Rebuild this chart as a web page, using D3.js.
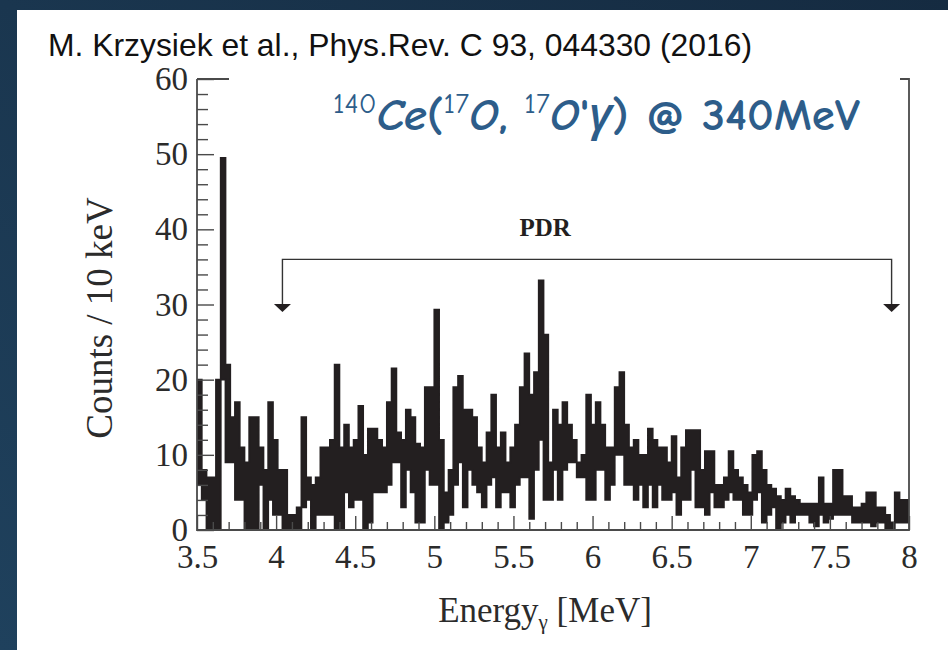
<!DOCTYPE html>
<html>
<head>
<meta charset="utf-8">
<script src="https://cdn.jsdelivr.net/npm/d3@7"></script>
<style>
  html, body { margin: 0; padding: 0; }
  body { width: 948px; height: 650px; overflow: hidden; }
</style>
</head>
<body>
<svg id="chart" width="948" height="650"></svg>
<script>
// spectrum in 30 keV steps from 3.50 MeV:
// upper = top of the black trace in the step, lower = bottom of it
const E0 = 3.5;
const binWidth = 0.03;
const upper350to494 = [20, 8, 7, 7, 20, 49.5, 22, 15, 17, 11,
  9, 15, 15, 11, 8, 17, 12, 8, 8, 2,
  2, 3, 15, 7, 6, 7, 11, 11, 12, 22,
  11, 14, 11, 12, 16.5, 10, 13.5, 13.5, 12, 11,
  17, 21.5, 13, 12, 16, 15, 11.5, 11, 19];
const lower350to494 = [6, 4, 0, 0, 0, 20, 9, 9, 4, 4,
  0, 0, 0, 6, 0, 4, 2, 2, 0, 0,
  0, 0, 3, 4, 0, 2, 2, 2, 2, 0,
  0, 5, 3, 4, 4, 0, 1, 5, 5, 5,
  6, 9, 9, 3, 8, 5, 1, 1, 8];
const upper497to656 = [19, 29.3, 12, 5, 8, 19, 20.5, 16, 16, 15,
  11, 9, 13, 18, 11, 13, 9, 11, 14, 19,
  23.5, 18, 21, 33.2, 26, 9, 16, 14, 17, 14,
  12, 9, 10, 18, 14, 17, 14, 11, 11, 19,
  21, 14, 11, 12, 10, 10, 13.5, 12, 11, 11,
  9, 12.5, 7, 11];
const lower497to656 = [6, 6, 0, 1, 2, 6, 9, 3, 8, 6,
  5, 3, 6, 7, 3, 5, 5, 3, 6, 7,
  7, 1.5, 8, 12, 4, 4, 8, 4, 8, 9,
  9, 7, 7, 4, 4, 8, 8, 4, 6, 10,
  10, 6, 6, 4, 6, 3, 6, 3, 6, 4,
  4, 5, 2, 4];
const upper659to797 = [13.3, 13.3, 13.3, 8, 10.5, 10.5, 6, 6, 7, 10.5,
  8, 7, 6, 5, 10, 10.5, 8, 6, 5.5, 4.5,
  4, 5.5, 4.5, 4, 3.5, 3.5, 3.5, 3.5, 7, 3.5,
  3.5, 8, 8, 4.5, 4.5, 3, 3, 3.5, 5, 5,
  3, 3, 2, 1, 5, 4, 4];
const lower659to797 = [4, 8, 3, 3, 2, 5, 3, 3, 4, 5,
  4, 4, 2, 2, 4, 5, 1, 2, 3, 0,
  1, 2, 1, 2, 2, 2, 1, 0.5, 2, 1,
  1.5, 2, 2, 2, 2, 1, 1, 1, 1, 0.5,
  1, 1, 0, 0, 1, 1, 1];

const xTickValues = [3.5, 4, 4.5, 5, 5.5, 6, 6.5, 7, 7.5, 8];
const yTickValues = [0, 10, 20, 30, 40, 50, 60];
const pdrRange = [4.04, 7.89];   // MeV
const pdrLevel = 36;             // counts, bracket line
const pdrArrowTip = 29;          // counts
const pdrLabelE = 5.7;

const citation = "M. Krzysiek et al., Phys.Rev. C 93, 044330 (2016)";
const titleParts = [
  ["140", true, false], ["Ce", false, true], ["(", false, false], ["17", true, false],
  ["O", false, true], [", ", false, false], ["17", true, false], ["O", false, true],
  ["'", false, false], ["γ", false, true], [") @ 340MeV", false, false]
];

const svg = d3.select("#chart");

// page background
const defs = svg.append("defs");
const grad = defs.append("linearGradient").attr("id", "bg")
    .attr("x1", "0").attr("y1", "1").attr("x2", "1").attr("y2", "0");
grad.append("stop").attr("offset", "0").attr("stop-color", "#1f415d");
grad.append("stop").attr("offset", "1").attr("stop-color", "#152b41");
svg.append("rect").attr("width", 948).attr("height", 650).attr("fill", "url(#bg)");
svg.append("rect").attr("x", 17).attr("y", 10).attr("width", 931).attr("height", 640).attr("fill", "#fff");

const plotLeft = 197, plotRight = 909, plotTop = 79, plotBottom = 530;
const x = d3.scaleLinear().domain([3.5, 8]).range([plotLeft, plotRight]);
const y = d3.scaleLinear().domain([0, 60]).range([plotBottom, plotTop]);

defs.append("clipPath").attr("id", "plotclip")
  .append("rect").attr("x", plotLeft).attr("y", plotTop)
  .attr("width", plotRight - plotLeft).attr("height", plotBottom - plotTop + 1);

// histogram
const upper = upper350to494.concat(upper497to656, upper659to797);
const lower = lower350to494.concat(lower497to656, lower659to797);
const bins = upper.map((u, i) => ({ e: E0 + i * binWidth, hi: u, lo: lower[i] }));
bins.push({ e: 8, hi: upper[upper.length - 1], lo: lower[lower.length - 1] });

const band = d3.area()
    .x(d => x(d.e))
    .y0(d => y(d.lo))
    .y1(d => y(d.hi))
    .curve(d3.curveStepAfter);

svg.append("path")
    .datum(bins)
    .attr("clip-path", "url(#plotclip)")
    .attr("fill", "#231f20")
    .attr("stroke", "#231f20")
    .attr("stroke-width", 1.8)
    .attr("d", band);

// axes
const axisColor = "#4a4a4a";
const tickFont = "'Liberation Serif', 'Times New Roman', serif";

const xMinor = d3.range(36, 81).map(v => v / 10).filter(v => xTickValues.indexOf(v) < 0);
const yMinor = d3.range(0, 61, 2).filter(v => v % 10 !== 0);

svg.append("g").attr("transform", "translate(0," + plotBottom + ")")
    .call(d3.axisBottom(x).tickValues(xTickValues).tickSizeInner(-14).tickSizeOuter(0).tickPadding(15)
      .tickFormat(d3.format("")));
svg.append("g").attr("transform", "translate(0," + plotBottom + ")")
    .call(d3.axisBottom(x).tickValues(xMinor).tickSizeInner(-8).tickSizeOuter(0).tickFormat(""));

svg.append("g").attr("transform", "translate(" + plotLeft + ",0)")
    .call(d3.axisLeft(y).tickValues(yTickValues).tickSizeInner(-17).tickSizeOuter(0).tickPadding(9));
svg.append("g").attr("transform", "translate(" + plotLeft + ",0)")
    .call(d3.axisLeft(y).tickValues(yMinor).tickSizeInner(-11).tickSizeOuter(0).tickFormat(""));

svg.selectAll(".domain").remove();
svg.selectAll(".tick line").attr("stroke", axisColor).attr("stroke-width", 1.4);
svg.selectAll(".tick text")
    .attr("fill", "#2b2b2b")
    .style("font-family", tickFont)
    .style("font-size", "33px");

// frame
svg.append("path")
    .attr("fill", "none")
    .attr("stroke", axisColor)
    .attr("stroke-width", 1.8)
    .attr("d", "M" + plotLeft + "," + plotTop + "V" + plotBottom + "H" + plotRight + "V" + plotTop + "H" + plotLeft);

// white box behind the reaction title hides the top frame
svg.append("rect").attr("x", 229).attr("y", 66).attr("width", 671).attr("height", 78).attr("fill", "#fff");

// PDR bracket
const bx1 = x(pdrRange[0]), bx2 = x(pdrRange[1]);
const tipY = y(pdrArrowTip), headY = tipY - 8, lvlY = y(pdrLevel);
svg.append("path")
    .attr("fill", "none")
    .attr("stroke", "#333")
    .attr("stroke-width", 1.4)
    .attr("d", "M" + bx1 + "," + headY + "V" + lvlY + "H" + bx2 + "V" + headY);
[bx1, bx2].forEach(bx => {
  svg.append("path")
      .attr("fill", "#231f20")
      .attr("d", "M" + (bx - 8.5) + "," + headY + "L" + (bx + 8.5) + "," + headY + "L" + bx + "," + tipY + "Z");
});
svg.append("text")
    .attr("x", x(pdrLabelE))
    .attr("y", y(pdrLevel) - 23)
    .attr("text-anchor", "middle")
    .style("font-family", tickFont)
    .style("font-weight", "bold")
    .style("font-size", "25px")
    .attr("fill", "#231f20")
    .text("PDR");

// axis titles
svg.append("text")
    .attr("transform", "translate(112,318) rotate(-90)")
    .attr("text-anchor", "middle")
    .style("font-family", tickFont)
    .style("font-size", "37px")
    .attr("fill", "#2b2b2b")
    .text("Counts / 10 keV");

const xt = svg.append("text")
    .attr("x", 545)
    .attr("y", 622)
    .attr("text-anchor", "middle")
    .style("font-family", tickFont)
    .style("font-size", "35px")
    .attr("fill", "#2b2b2b");
xt.append("tspan").text("Energy");
xt.append("tspan").attr("dy", 7).style("font-size", "21px").text("γ");
xt.append("tspan").attr("dy", -7).text(" [MeV]");

// citation
svg.append("text")
    .attr("x", 48)
    .attr("y", 56)
    .style("font-family", "'Liberation Sans', Arial, sans-serif")
    .style("font-size", "32px")
    .attr("fill", "#111")
    .attr("textLength", 704)
    .attr("lengthAdjust", "spacingAndGlyphs")
    .text(citation);

// reaction title
const title = svg.append("text")
    .attr("x", 333)
    .attr("y", 130)
    .style("font-family", "'Comic Sans MS', 'Comic Neue', 'Open Sans', sans-serif")
    .style("font-size", "45px")
    .style("font-weight", "600")
    .attr("fill", "#2d5d8a");
let raised = false;
titleParts.forEach(p => {
  const t = title.append("tspan").text(p[0]);
  if (p[1] && !raised) { t.attr("dy", -17); raised = true; }
  if (!p[1] && raised) { t.attr("dy", 17); raised = false; }
  if (p[1]) t.style("font-size", "28px").style("font-weight", "400");
  if (p[2]) t.style("font-style", "italic");
});
title.attr("textLength", 527).attr("lengthAdjust", "spacingAndGlyphs");
</script>
</body>
</html>
